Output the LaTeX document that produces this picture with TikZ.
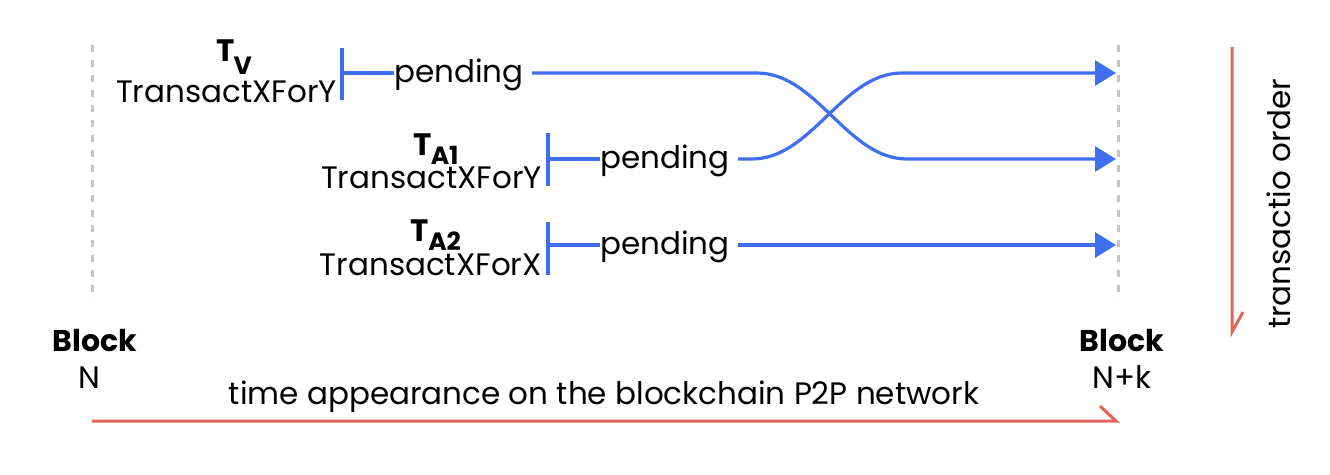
\documentclass[tikz,border=0pt]{standalone}
\usepackage{fontspec}
\setmainfont{Poppins}
\usetikzlibrary{arrows.meta}
\definecolor{flowblue}{HTML}{3F6FF0}
\definecolor{axisred}{HTML}{E8625C}
\definecolor{guidegray}{HTML}{C4C4C4}
\tikzset{
  lbl/.style={inner sep=0pt, font=\fontsize{31}{33}\selectfont},
  blbl/.style={inner sep=0pt, font=\fontsize{30}{32}\selectfont\bfseries},
  flow/.style={draw=flowblue, line width=3.2pt},
  flowarrow/.style={flow, -{Triangle[length=21pt,width=25pt]}},
  guide/.style={draw=guidegray, line width=3pt, dash pattern=on 7pt off 8pt},
  axis/.style={draw=axisred, line width=3pt},
}
\newcommand{\tname}[2]{\textbf{\fontsize{31}{31}\selectfont T\kern-1pt\raisebox{-#2}{\fontsize{25}{25}\selectfont #1}}}
\begin{document}
\begin{tikzpicture}[x=1pt,y=-1pt]
\useasboundingbox (0,0) rectangle (1330,474);
% guides
\coordinate (gl1) at (92,45); \coordinate (gl2) at (92,300);
\coordinate (gr1) at (1118,45); \coordinate (gr2) at (1118,300);
\draw[guide] (gl1) -- (gl2);
\draw[guide] (gr1) -- (gr2);
% TV
\node[inner sep=0pt, anchor=base] (tvT) at (234,61) {\tname{V}{13pt}};
\node[lbl, anchor=base east] (tvS) at (337,102) {TransactXForY};
\coordinate (tvb1) at (342,48); \coordinate (tvb2) at (342,100); \coordinate (tvm) at (342,73);
\draw[flow] (tvb1) -- (tvb2);
\node[lbl, anchor=base west] (tvP) at (394,82) {pending};
\draw[flow] (tvm) -- (tvP.west |- tvm);
\coordinate (tvc1) at (757,73); \coordinate (tvc2) at (907,159); \coordinate (tvend) at (1116,159);
\draw[flowarrow] (tvP.east |- tvm) ++(8,0) -- (tvc1) .. controls (817,73) and (847,159) .. (tvc2) -- (tvend);
% TA1
\node[inner sep=0pt, anchor=base] (taT) at (436,155) {\tname{A1}{9pt}};
\node[lbl, anchor=base east] (taS) at (542,188) {TransactXForY};
\coordinate (tab1) at (548,133); \coordinate (tab2) at (548,186); \coordinate (tam) at (548,159);
\draw[flow] (tab1) -- (tab2);
\node[lbl, anchor=base west] (taP) at (600,168) {pending};
\draw[flow] (tam) -- (taP.west |- tam);
\coordinate (tac1) at (752,159); \coordinate (tac2) at (902,73); \coordinate (taend) at (1116,73);
\draw[flowarrow] (taP.east |- tam) ++(8,0) -- (tac1) .. controls (812,159) and (842,73) .. (tac2) -- (taend);
% TA2
\node[inner sep=0pt, anchor=base] (tbT) at (436,241) {\tname{A2}{9pt}};
\node[lbl, anchor=base east] (tbS) at (542,275) {TransactXForX};
\coordinate (tbb1) at (548,222); \coordinate (tbb2) at (548,275); \coordinate (tbm) at (548,245);
\draw[flow] (tbb1) -- (tbb2);
\node[lbl, anchor=base west] (tbP) at (600,254) {pending};
\draw[flow] (tbm) -- (tbP.west |- tbm);
\coordinate (tbend) at (1116,245);
\draw[flowarrow] (tbP.east |- tbm) ++(8,0) -- (tbend);
% blocks
\node[blbl, anchor=base] (bN) at (95,351) {Block};
\node[lbl, anchor=base] (bNn) at (89,388) {N};
\node[blbl, anchor=base] (bK) at (1122,351) {Block};
\node[lbl, anchor=base] (bKn) at (1122,388) {N+k};
% time axis
\node[lbl, anchor=base] (time) at (604,404) {time appearance on the blockchain P2P network};
\coordinate (ta0) at (92,421); \coordinate (ta1) at (1116,421); \coordinate (tab) at (1100,406);
\draw[axis, line join=miter] (ta0) -- (ta1) -- (tab);
% order axis
\coordinate (oa0) at (1232,47); \coordinate (oa1) at (1232,332); \coordinate (oab) at (1243,312);
\draw[axis] (oa0) -- (oa1) -- (oab);
\node[lbl, rotate=90, anchor=base] (ord) at (1290,204) {transactio order};
\end{tikzpicture}
\end{document}
